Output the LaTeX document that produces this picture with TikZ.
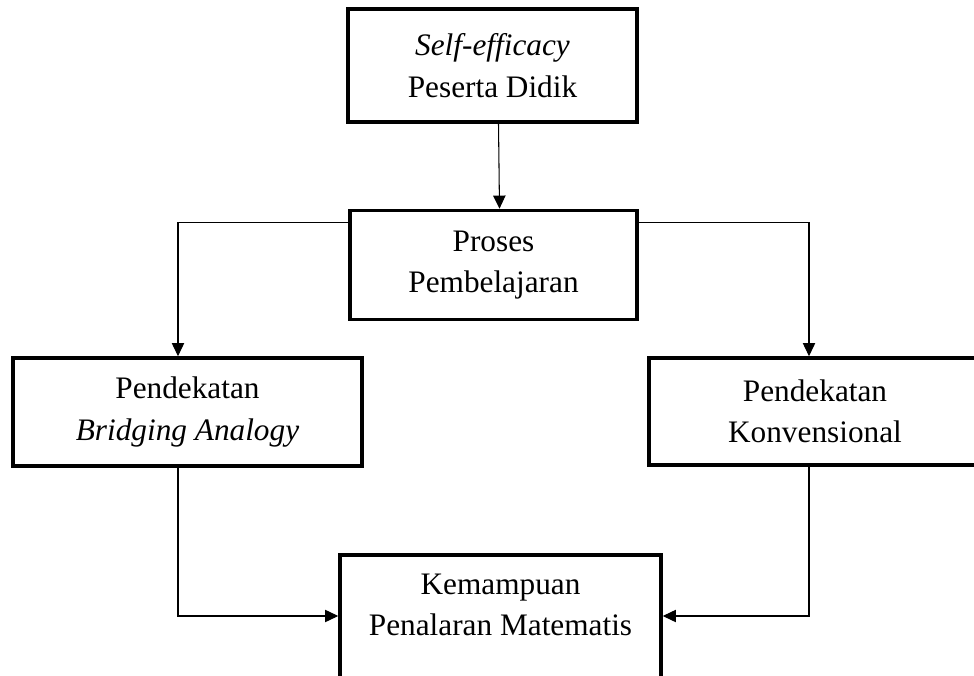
\documentclass[tikz,border=0pt]{standalone}
\usepackage{fontspec}
\setmainfont{Liberation Serif}
\usetikzlibrary{arrows.meta}

\begin{document}
\begin{tikzpicture}[
    kotak/.style={draw, line width=2pt, align=center, inner sep=0pt, font=\fontsize{17.8}{23.5}\selectfont},
    panah/.style={-{Triangle[length=7.5pt,width=7pt]}, line width=0.6pt}]
\useasboundingbox (0,0) rectangle (19.48,13.5);
% Boxes
\node[kotak, minimum width=5.78cm, minimum height=2.26cm] (selfeff) at (9.85,12.19) {\textit{Self-efficacy}\\Peserta Didik};
\node[kotak, minimum width=5.74cm, minimum height=2.18cm] (proses) at (9.87,8.2) {Proses\\Pembelajaran};
\node[kotak, minimum width=6.98cm, minimum height=2.16cm] (bridging) at (3.75,5.26) {Pendekatan\\\textit{Bridging Analogy}};
\node[kotak, minimum width=6.64cm, minimum height=2.14cm] (konvensional) at (16.3,5.27) {Pendekatan\\Konvensional};
\node[kotak, anchor=north, minimum width=6.42cm, inner ysep=0.38cm] (hasil) at (10.01,2.44) {Kemampuan\\Penalaran Matematis\\\strut};
% Connectors
\draw[panah] ([xshift=0.12cm]selfeff.south) -- ([xshift=0.12cm]proses.north);
\draw[panah] ([yshift=-0.28cm]proses.north west) -| ([xshift=-0.19cm]bridging.north);
\draw[panah] ([yshift=-0.28cm]proses.north east) -| ([xshift=-0.12cm]konvensional.north);
\draw[panah] ([xshift=-0.19cm]bridging.south) |- ([yshift=-1.26cm]hasil.north west);
\draw[panah] ([xshift=-0.12cm]konvensional.south) |- ([yshift=-1.26cm]hasil.north east);
\end{tikzpicture}
\end{document}
